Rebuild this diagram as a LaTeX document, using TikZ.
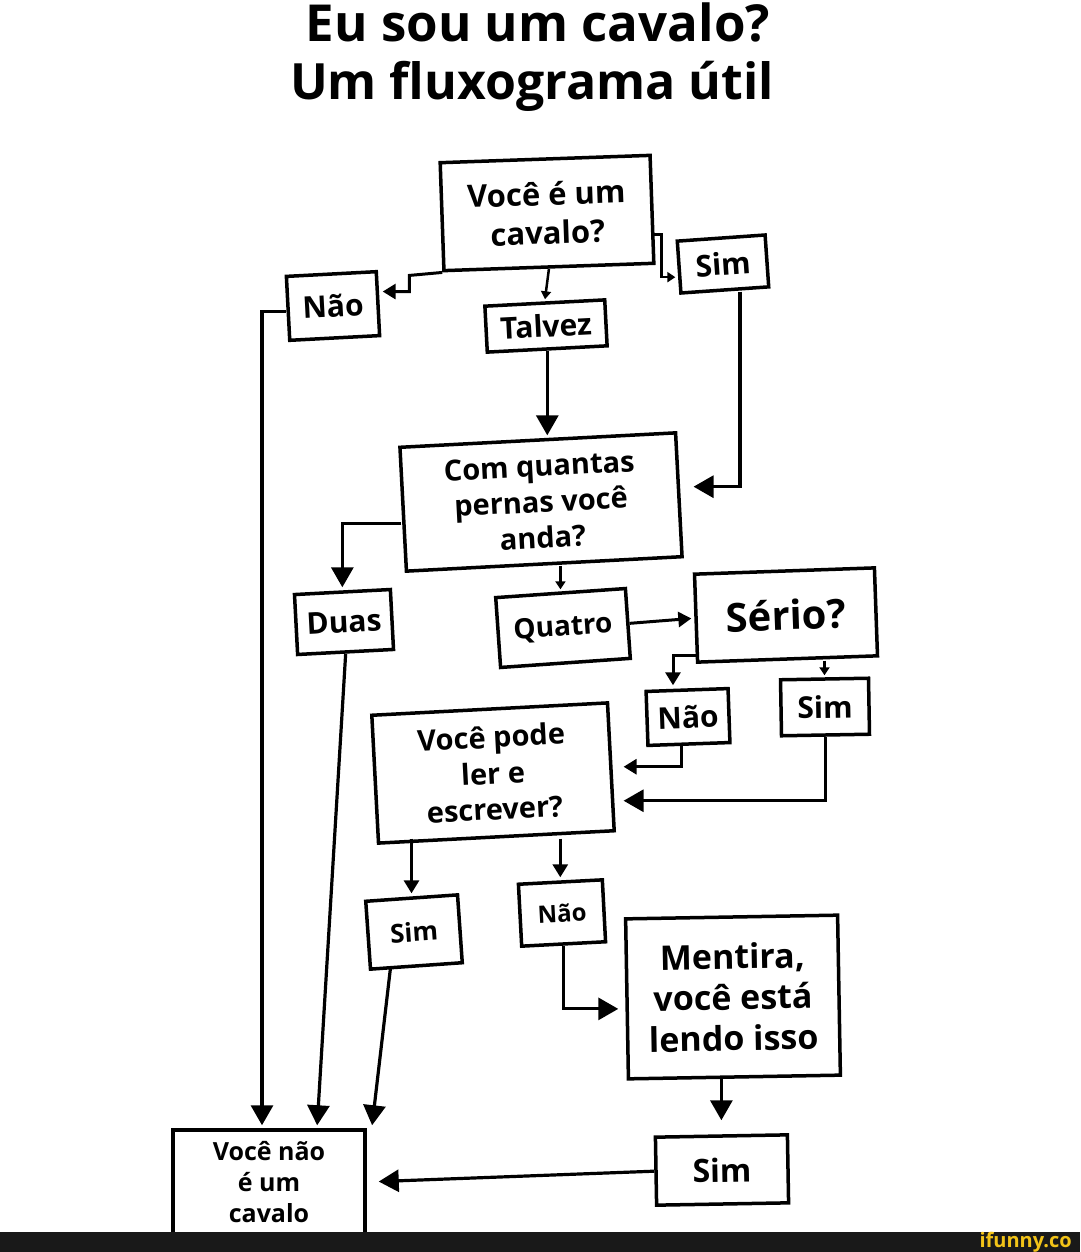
\documentclass[tikz,border=0pt]{standalone}
\usepackage{fontspec}
\setmainfont{Open Sans}
\usetikzlibrary{arrows.meta,calc}
\definecolor{ifunnygold}{HTML}{F2C318}

\begin{document}
\begin{tikzpicture}[x=1pt, y=-1pt,
    box/.style={draw, rectangle, line width=3.5pt, align=center, inner sep=3pt, font=\bfseries\fontsize{30}{37}\selectfont},
    arr/.style={-{Triangle[width=22pt,length=20pt]}, line width=3.2pt, shorten >=3pt},
    marr/.style={-{Triangle[width=15pt,length=13pt]}, line width=3pt, shorten >=3pt},
    sarr/.style={-{Triangle[width=10pt,length=8pt]}, line width=2.5pt, shorten >=2pt}]
    \useasboundingbox (0,0) rectangle (1080,1252);

    % title
    \node (title1) [anchor=base, font=\bfseries\fontsize{51}{60}\selectfont] at (538,42) {Eu sou um cavalo?};
    \node (title2) [anchor=base, font=\bfseries\fontsize{50}{60}\selectfont] at (532,100) {Um fluxograma útil};

    % boxes
    \node (horse) [box, minimum width=210, minimum height=108, rotate=2, font=\bfseries\fontsize{31}{39}\selectfont] at (547,213) {Você é um\\cavalo?};
    \node (no1) [box, minimum width=90, minimum height=64, rotate=3] at (333,306) {Não};
    \node (yes1) [box, minimum width=88, minimum height=52, rotate=4] at (723,264) {Sim};
    \node (maybe) [box, minimum width=120, minimum height=46, rotate=3] at (546,326) {Talvez};
    \node (legs) [box, minimum width=276, minimum height=124, rotate=3, font=\bfseries\fontsize{29}{36}\selectfont] at (541,502) {Com quantas\\pernas você\\anda?};
    \node (two) [box, minimum width=96, minimum height=60, rotate=3] at (344,622) {Duas};
    \node (four) [box, minimum width=130, minimum height=70, rotate=4, font=\bfseries\fontsize{28}{34}\selectfont] at (563,628) {Quatro};
    \node (really) [box, minimum width=180, minimum height=88, rotate=2, font=\bfseries\fontsize{40}{48}\selectfont] at (786,615) {Sério?};
    \node (no2) [box, minimum width=82, minimum height=54, rotate=2] at (688,717) {Não};
    \node (yes2) [box, minimum width=88, minimum height=56, rotate=1] at (825,707) {Sim};
    \node (read) [box, minimum width=236, minimum height=128, rotate=3, font=\bfseries\fontsize{29}{36}\selectfont] at (493,773) {Você pode\\ler e\\escrever?};
    \node (yes3) [box, minimum width=92, minimum height=68, rotate=4, font=\bfseries\fontsize{26}{32}\selectfont] at (414,932) {Sim};
    \node (no3) [box, minimum width=84, minimum height=62, rotate=3, font=\bfseries\fontsize{24}{30}\selectfont] at (562,913) {Não};
    \node (lie) [box, minimum width=212, minimum height=160, rotate=1, font=\bfseries\fontsize{34}{41}\selectfont] at (733,997) {Mentira,\\você está\\lendo isso};
    \node (yes4) [box, minimum width=132, minimum height=68, rotate=1, font=\bfseries\fontsize{32}{38}\selectfont] at (722,1170) {Sim};
    \node (nothorse) [box, minimum width=192, minimum height=104, font=\bfseries\fontsize{25}{31}\selectfont] at (269,1182) {Você não\\é um\\cavalo};

    % connectors
    \draw[marr] (horse.south west) -- ++(-33,3) |- ($(no1.east)+(0,-12)$);
    \draw[sarr] ($(horse.east)+(0,25)$) -- ++(8,0) |- ($(yes1.west)+(0,10)$);
    \draw[sarr] (horse.south) -- (maybe.north);
    \draw[arr] (maybe.south) -- (maybe.south |- legs.north);
    \draw[arr] ($(yes1.south)+(15,0)$) |- ($(legs.east)+(10,-8)$);
    \draw[arr] ($(legs.west)+(0,14)$) -| (two.north);
    \draw[sarr] (four.north |- legs.south) -- (four.north);
    \draw[marr] (four.east) -- (really.west);
    \draw[marr] ($(really.south west)+(3,-8)$) -| ($(no2.north)+(-14,0)$);
    \draw[sarr] (really.south -| yes2.north) -- (yes2.north);
    \draw[marr] ($(no2.south)+(-8,0)$) |- ($(read.east)+(8,0)$);
    \draw[arr] (yes2.south) |- ($(read.east)+(8,34)$);
    \draw[marr] (read.south -| yes3.north) -- (yes3.north);
    \draw[marr] (read.south -| no3.north) -- (no3.north);
    \draw[arr] (no3.south) |- ($(lie.west)+(-4,10)$);
    \draw[arr, shorten >=14pt] (lie.south -| yes4.north) -- (yes4.north);
    \draw[arr, shorten >=12pt] (yes4.west) -- (nothorse.east);
    \draw[arr] ($(no1.west)+(0,3)$) -| ($(nothorse.north)+(-7,0)$);
    \draw[arr] (two.south) -- ($(nothorse.north)+(48,0)$);
    \draw[arr] ($(yes3.south)+(-26,0)$) -- ($(nothorse.north east)+(5,0)$);

    % watermark bar
    \fill[black!90] (0,1232) rectangle (1080,1252);
    \node (logo) [anchor=base east, inner sep=0pt, text=ifunnygold, font=\bfseries\fontsize{20}{20}\selectfont] at (1072,1247) {ifunny.co};
\end{tikzpicture}
\end{document}
